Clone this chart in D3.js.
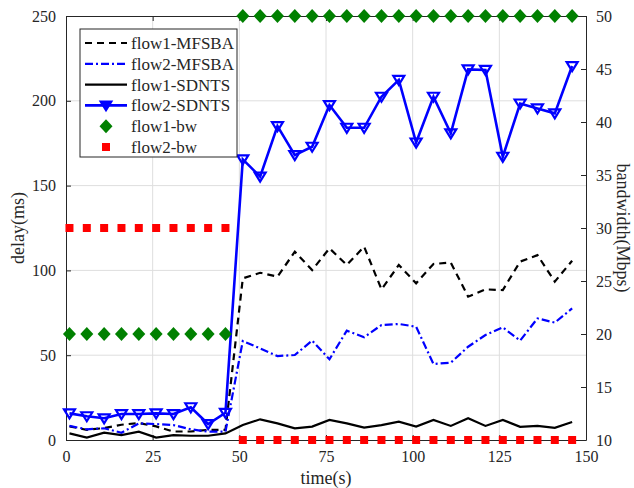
<!DOCTYPE html>
<html>
<head>
<meta charset="utf-8">
<script src="https://cdn.jsdelivr.net/npm/d3@7"></script>
<style>
  body { margin: 0; background: #fff; }
  text { font-family: "Liberation Serif", "Times New Roman", serif; fill: #262626; }
</style>
</head>
<body>
<div class="chart-area"></div>
<script>
// sample times (s)
const time = [1, 6, 11, 16, 21, 26, 31, 36, 41, 46,
              51, 56, 61, 66, 71, 76, 81, 86, 91, 96,
              101, 106, 111, 116, 121, 126, 131, 136, 141, 146];

// delay (ms), left axis
const flow1MFSBA = [8, 6, 7, 9, 10, 8, 5, 5, 6, 6,
                    95.3, 98.6, 96.3, 111, 100.2, 113, 103.2, 114, 88.8, 103.2,
                    92.4, 103.8, 104.6, 84.5, 88.8, 88.4, 105.2, 109, 93.4, 105.7];
const flow2MFSBA = [8.3, 6.3, 6.9, 4.3, 9.8, 9.4, 8.8, 6.3, 4.9, 4.9,
                    58.4, 54, 49.5, 50.1, 58.6, 47.6, 64.5, 60.6, 67.8, 68.4,
                    66.8, 44.8, 45.6, 55, 61.9, 66.4, 58.6, 71.7, 69.2, 77.6];
const flow1SDNTS = [3.9, 1.4, 4.3, 2.9, 4.9, 1.4, 2.9, 2.5, 2.5, 3.9,
                    8.8, 12.2, 9.8, 6.9, 7.9, 11.8, 9.8, 7.3, 8.8, 10.8,
                    7.9, 11.8, 8.3, 12.8, 8.3, 11.8, 7.8, 8.3, 7.2, 10.6];
const flow2SDNTS = [15.7, 14, 12.8, 15.3, 15.3, 15.7, 15.3, 19.3, 9.4, 16,
                    165.5, 155.3, 185.1, 168, 172.9, 197.5, 184.1, 184.1, 202.4, 212.3,
                    175.4, 202.4, 180.8, 218.5, 218.2, 167, 198.4, 195.5, 192.6, 220.5];

// bandwidth (Mbps), right axis
const flow1bw = [20, 20, 20, 20, 20, 20, 20, 20, 20, 20,
                 50, 50, 50, 50, 50, 50, 50, 50, 50, 50,
                 50, 50, 50, 50, 50, 50, 50, 50, 50, 50];
const flow2bw = [30, 30, 30, 30, 30, 30, 30, 30, 30, 30,
                 10, 10, 10, 10, 10, 10, 10, 10, 10, 10,
                 10, 10, 10, 10, 10, 10, 10, 10, 10, 10];

const xTicks = [0, 25, 50, 75, 100, 125, 150];
const yLeftTicks = [0, 50, 100, 150, 200, 250];
const yRightTicks = [10, 15, 20, 25, 30, 35, 40, 45, 50];

const width = 634, height = 488;
const margin = {top: 16, right: 48, bottom: 48, left: 66};
const axisColor = "#262626";

const svg = d3.select(".chart-area").append("svg")
  .attr("width", width)
  .attr("height", height);

const x = d3.scaleLinear().domain([0, 150]).range([margin.left, width - margin.right]);
const yL = d3.scaleLinear().domain([0, 250]).range([height - margin.bottom, margin.top]);
const yR = d3.scaleLinear().domain([10, 50]).range([height - margin.bottom, margin.top]);

// grid
svg.append("g").selectAll("line")
  .data(xTicks.slice(1, -1))
  .join("line")
  .attr("x1", d => x(d)).attr("x2", d => x(d))
  .attr("y1", yL.range()[0]).attr("y2", yL.range()[1])
  .attr("stroke", "#dedede");
svg.append("g").selectAll("line")
  .data(yLeftTicks.slice(1, -1))
  .join("line")
  .attr("x1", x.range()[0]).attr("x2", x.range()[1])
  .attr("y1", d => yL(d)).attr("y2", d => yL(d))
  .attr("stroke", "#dedede");

// axes (ticks pointing inward, like the original)
function styleAxis(g) {
  g.select(".domain").attr("stroke", axisColor);
  g.selectAll(".tick line").attr("stroke", axisColor);
  g.selectAll(".tick text").style("font-size", "16px").attr("fill", axisColor);
}
svg.append("g")
  .attr("transform", `translate(0,${yL(0)})`)
  .call(d3.axisBottom(x).tickValues(xTicks).tickSizeInner(-5).tickSizeOuter(0).tickPadding(11))
  .call(styleAxis);
svg.append("g")
  .attr("transform", `translate(0,${yL(250)})`)
  .call(d3.axisTop(x).tickValues(xTicks).tickSizeInner(-5).tickSizeOuter(0).tickFormat(""))
  .call(styleAxis);
svg.append("g")
  .attr("transform", `translate(${x(0)},0)`)
  .call(d3.axisLeft(yL).tickValues(yLeftTicks).tickSizeInner(-5).tickSizeOuter(0).tickPadding(10))
  .call(styleAxis);
svg.append("g")
  .attr("transform", `translate(${x(150)},0)`)
  .call(d3.axisRight(yR).tickValues(yRightTicks).tickSizeInner(-5).tickSizeOuter(0).tickPadding(10))
  .call(styleAxis);

// axis titles
svg.append("text")
  .attr("x", x(75)).attr("y", 484)
  .attr("text-anchor", "middle")
  .style("font-size", "18px")
  .text("time(s)");
svg.append("text")
  .attr("transform", `translate(24,${yL(125)}) rotate(-90)`)
  .attr("text-anchor", "middle")
  .style("font-size", "18px")
  .text("delay(ms)");
svg.append("text")
  .attr("transform", `translate(617,${yR(30)}) rotate(90)`)
  .attr("text-anchor", "middle")
  .style("font-size", "18px")
  .text("bandwidth(Mbps)");

// series
const series = [
  {name: "flow1-MFSBA", values: flow1MFSBA, color: "#000", width: 2.2, dash: "7,5"},
  {name: "flow2-MFSBA", values: flow2MFSBA, color: "#0000ff", width: 2.2, dash: "8,3,2,3"},
  {name: "flow1-SDNTS", values: flow1SDNTS, color: "#000", width: 2.2, dash: null},
  {name: "flow2-SDNTS", values: flow2SDNTS, color: "#0000ff", width: 2.6, dash: null, marker: true}
];

const line = d3.line().x(d => x(d[0])).y(d => yL(d[1]));

const tri = "M-5.5,-4L5.5,-4L0,5Z";
const diamond = "M0,-7L6.5,0L0,7L-6.5,0Z";

series.forEach(s => {
  const pts = time.map((t, i) => [t, s.values[i]]);
  svg.append("path")
    .datum(pts)
    .attr("d", line)
    .attr("fill", "none")
    .attr("stroke", s.color)
    .attr("stroke-width", s.width)
    .attr("stroke-dasharray", s.dash);
  if (s.marker) {
    svg.append("g").selectAll("path")
      .data(pts)
      .join("path")
      .attr("d", tri)
      .attr("transform", d => `translate(${x(d[0])},${yL(d[1])})`)
      .attr("fill", "none")
      .attr("stroke", s.color)
      .attr("stroke-width", 2.2);
  }
});

// bandwidth markers (right axis)
svg.append("g").selectAll("path")
  .data(time.map((t, i) => [t, flow1bw[i]]))
  .join("path")
  .attr("d", diamond)
  .attr("transform", d => `translate(${x(d[0])},${yR(d[1])})`)
  .attr("fill", "#008000");
svg.append("g").selectAll("rect")
  .data(time.map((t, i) => [t, flow2bw[i]]))
  .join("rect")
  .attr("x", d => x(d[0]) - 4)
  .attr("y", d => yR(d[1]) - 4)
  .attr("width", 8).attr("height", 8)
  .attr("fill", "#ff0000");

// legend
const legend = svg.append("g").attr("transform", "translate(80,29)");
legend.append("rect")
  .attr("width", 157).attr("height", 128)
  .attr("fill", "#fff")
  .attr("stroke", axisColor);
const legendItems = [
  {name: "flow1-MFSBA", type: "line", s: series[0]},
  {name: "flow2-MFSBA", type: "line", s: series[1]},
  {name: "flow1-SDNTS", type: "line", s: series[2]},
  {name: "flow2-SDNTS", type: "line", s: series[3]},
  {name: "flow1-bw", type: "diamond"},
  {name: "flow2-bw", type: "square"}
];
legendItems.forEach((it, i) => {
  const g = legend.append("g").attr("transform", `translate(0,${14 + i * 20.8})`);
  if (it.type === "line") {
    g.append("line")
      .attr("x1", 5).attr("x2", 47)
      .attr("stroke", it.s.color)
      .attr("stroke-width", it.s.width)
      .attr("stroke-dasharray", it.s.dash);
    if (it.s.marker) {
      g.append("path").attr("d", tri)
        .attr("transform", "translate(26,0)")
        .attr("fill", it.s.color)
        .attr("stroke", it.s.color)
        .attr("stroke-width", 2);
    }
  } else if (it.type === "diamond") {
    g.append("path").attr("d", diamond)
      .attr("transform", "translate(26,0)")
      .attr("fill", "#008000");
  } else {
    g.append("rect")
      .attr("x", 22).attr("y", -4).attr("width", 8).attr("height", 8)
      .attr("fill", "#ff0000");
  }
  g.append("text")
    .attr("x", 51).attr("y", 0).attr("dy", "0.35em")
    .style("font-size", "17px")
    .text(it.name);
});
</script>
</body>
</html>
